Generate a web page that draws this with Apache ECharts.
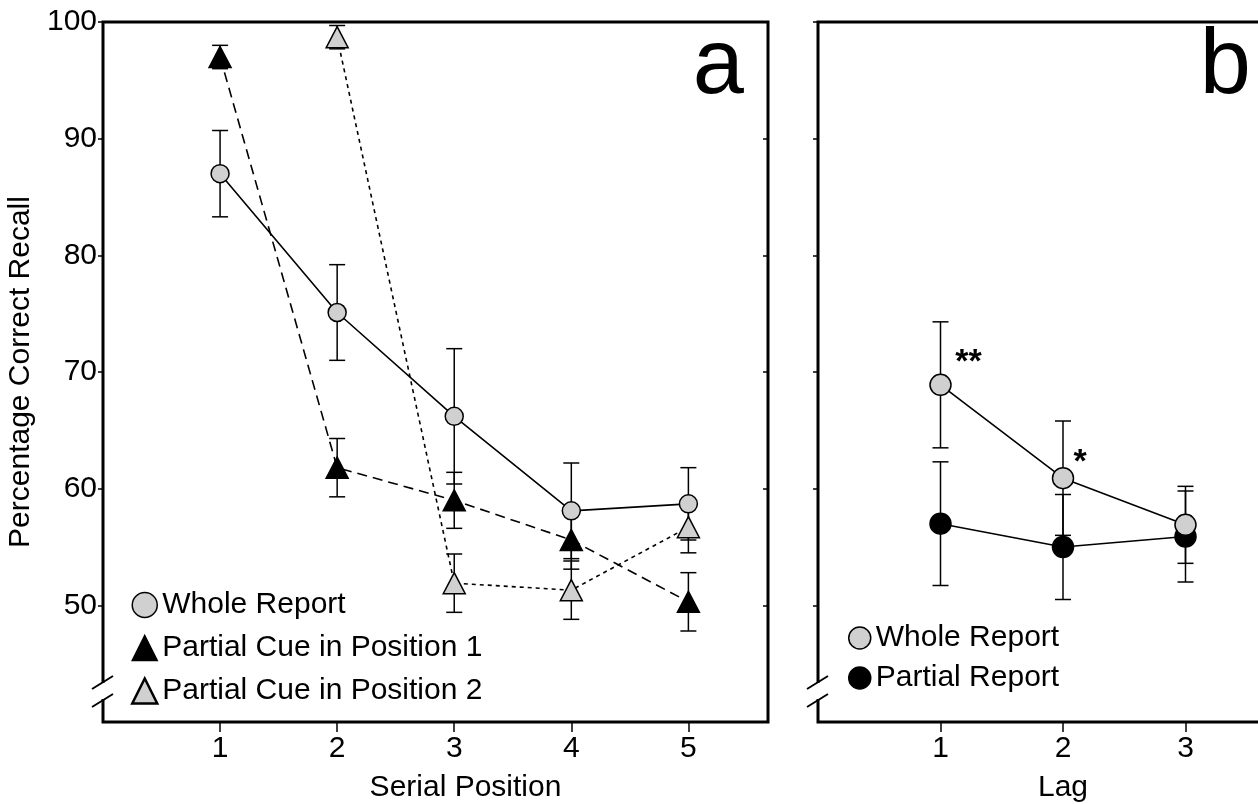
<!DOCTYPE html>
<html>
<head>
<meta charset="utf-8">
<script src="https://cdn.jsdelivr.net/npm/echarts@6/dist/echarts.min.js"></script>
<style>
  html, body { margin: 0; padding: 0; background: #fff; }
  #chart { width: 1258px; height: 804px; }
</style>
</head>
<body>
<div id="chart"></div>
<script>
// panel a: serial position
var serialPos = [1, 2, 3, 4, 5];
var wholeA = [87.0, 75.1, 66.2, 58.1, 58.7];
var wholeAErr = [3.7, 4.1, 5.8, 4.1, 3.1];
var cue1 = [97.0, 61.8, 59.0, 55.6, 50.3];
var cue1Err = [1.0, 2.5, 2.4, 2.5, 2.5];
var cue2Pos = [2, 3, 4, 5];
var cue2 = [98.7, 51.9, 51.3, 56.7];
var cue2Err = [1.0, 2.5, 2.5, 2.2];
// panel b: lag
var lags = [1, 2, 3];
var wholeB = [68.9, 60.9, 56.9];
var wholeBErr = [5.4, 4.9, 3.3];
var partialB = [57.0, 55.0, 55.9];
var partialBErr = [5.3, 4.5, 3.9];
var sigMarks = ['**', '*', ''];
var yTicks = [50, 60, 70, 80, 90, 100];

var FONT = '"Liberation Sans", Arial, Helvetica, sans-serif';
var GRAY = '#d0d0d0';

var chart = echarts.init(document.getElementById('chart'));

function pairs(xs, ys) {
  return xs.map(function (x, i) { return [x, ys[i]]; });
}

// vertical error bar with caps, drawn under the markers
function errSeries(xs, ys, es, xi, yi) {
  return {
    type: 'custom',
    xAxisIndex: xi,
    yAxisIndex: yi,
    z: 1,
    silent: true,
    encode: { x: 0, y: [1, 2] },
    data: xs.map(function (x, i) { return [x, ys[i] - es[i], ys[i] + es[i]]; }),
    renderItem: function (params, api) {
      var x = api.value(0);
      var lo = api.coord([x, api.value(1)]);
      var hi = api.coord([x, api.value(2)]);
      var w = 8;
      var st = { stroke: '#000', lineWidth: 1.5 };
      return {
        type: 'group',
        children: [
          { type: 'line', shape: { x1: hi[0], y1: hi[1], x2: lo[0], y2: lo[1] }, style: st },
          { type: 'line', shape: { x1: hi[0] - w, y1: hi[1], x2: hi[0] + w, y2: hi[1] }, style: st },
          { type: 'line', shape: { x1: lo[0] - w, y1: lo[1], x2: lo[0] + w, y2: lo[1] }, style: st }
        ]
      };
    }
  };
}

function xAxisCfg(grid, max, ticks, name, pad) {
  return {
    type: 'value', gridIndex: grid, min: 0, max: max,
    axisLine: { show: false, onZero: false },
    axisTick: { customValues: ticks, length: 10, lineStyle: { color: '#000', width: 1.5 } },
    axisLabel: { customValues: ticks, fontSize: 30, color: '#000', fontFamily: FONT, margin: 12 },
    splitLine: { show: false },
    name: name, nameLocation: 'middle', nameGap: 51,
    nameTextStyle: { fontSize: 30, color: '#000', fontFamily: FONT, padding: pad }
  };
}

function yAxisCfg(grid, inside, labels, name) {
  return {
    type: 'value', gridIndex: grid, min: 40, max: 100,
    axisLine: { show: false, onZero: false },
    axisTick: { customValues: yTicks, inside: inside, length: 5, lineStyle: { color: '#000', width: 1.5 } },
    axisLabel: { show: labels, customValues: yTicks, fontSize: 30, color: '#000', fontFamily: FONT, margin: 6 },
    splitLine: { show: false },
    name: name, nameLocation: 'middle', nameGap: 59,
    nameTextStyle: { fontSize: 30, color: '#000', fontFamily: FONT }
  };
}

function lineSeries(name, xs, ys, xi, yi, symbol, size, fill, dash) {
  return {
    name: name, type: 'line', xAxisIndex: xi, yAxisIndex: yi, z: 3,
    data: pairs(xs, ys),
    symbol: symbol, symbolSize: size, showSymbol: true,
    itemStyle: { color: fill, borderColor: '#000', borderWidth: 1.5, opacity: 1 },
    lineStyle: { color: '#000', width: 1.6, type: dash },
    emphasis: { disabled: true },
    animation: false
  };
}

// axis break marks on the y axis
function breakMark(x0) {
  return [
    { type: 'rect', z: 100, shape: { x: x0 - 4, y: 683, width: 8, height: 16 }, style: { fill: '#fff' } },
    { type: 'line', z: 101, shape: { x1: x0 - 11, y1: 689, x2: x0 + 10, y2: 676 }, style: { stroke: '#000', lineWidth: 2 } },
    { type: 'line', z: 101, shape: { x1: x0 - 11, y1: 707, x2: x0 + 10, y2: 694 }, style: { stroke: '#000', lineWidth: 2 } }
  ];
}

var legendText = { fontSize: 30, color: '#000', fontFamily: FONT };
var itemBorder = { borderColor: '#000', borderWidth: 1.5 };

var option = {
  backgroundColor: '#fff',
  animation: false,
  textStyle: { fontFamily: FONT },
  grid: [
    { left: 103, top: 22, width: 665, height: 700, show: true, borderColor: '#000', borderWidth: 3, backgroundColor: 'transparent', outerBoundsMode: 'none' },
    { left: 818, top: 22, width: 490, height: 700, show: true, borderColor: '#000', borderWidth: 3, backgroundColor: 'transparent', outerBoundsMode: 'none' }
  ],
  xAxis: [
    xAxisCfg(0, 5.68, serialPos, 'Serial Position', [0, 0, 0, 60]),
    xAxisCfg(1, 4, lags, 'Lag', [0, 0, 0, 0])
  ],
  yAxis: [
    yAxisCfg(0, false, true, 'Percentage Correct Recall'),
    yAxisCfg(0, true, false, ''),
    yAxisCfg(1, false, false, ''),
    yAxisCfg(1, true, false, '')
  ],
  legend: [
    {
      left: 131, top: 590, orient: 'vertical', padding: 0,
      itemWidth: 25, itemHeight: 25, itemGap: 13, itemTextGap: 12,
      selectedMode: false, textStyle: legendText,
      data: [
        { name: 'Whole Report', icon: 'circle', itemStyle: Object.assign({ color: GRAY }, itemBorder) },
        { name: 'Partial Cue in Position 1', icon: 'triangle', itemStyle: Object.assign({ color: '#000' }, itemBorder) },
        { name: 'Partial Cue in Position 2', icon: 'triangle', itemStyle: { color: GRAY, borderWidth: 2.5, borderColor: '#000' } }
      ]
    },
    {
      left: 848, top: 623, orient: 'vertical', padding: 0,
      itemWidth: 22, itemHeight: 22, itemGap: 10, itemTextGap: 13,
      selectedMode: false, textStyle: legendText,
      data: [
        { name: 'Whole Report', icon: 'circle', itemStyle: Object.assign({ color: GRAY }, itemBorder) },
        { name: 'Partial Report', icon: 'circle', itemStyle: Object.assign({ color: '#000' }, itemBorder) }
      ]
    }
  ],
  graphic: [
    { type: 'text', z: 100, style: { text: 'a', x: 744, y: 68, align: 'right', verticalAlign: 'middle', font: '92px ' + FONT, fill: '#000' } },
    { type: 'text', z: 100, style: { text: 'b', x: 1251, y: 68, align: 'right', verticalAlign: 'middle', font: '92px ' + FONT, fill: '#000' } }
  ].concat(breakMark(103), breakMark(818)),
  series: [
    errSeries(serialPos, wholeA, wholeAErr, 0, 0),
    errSeries(serialPos, cue1, cue1Err, 0, 0),
    errSeries(cue2Pos, cue2, cue2Err, 0, 0),
    errSeries(lags, wholeB, wholeBErr, 1, 2),
    errSeries(lags, partialB, partialBErr, 1, 2),
    lineSeries('Partial Cue in Position 2', cue2Pos, cue2, 0, 0, 'triangle', [22, 21], GRAY, [4, 4]),
    lineSeries('Partial Cue in Position 1', serialPos, cue1, 0, 0, 'triangle', [22, 21], '#000', [10, 6]),
    lineSeries('Whole Report', serialPos, wholeA, 0, 0, 'circle', 18, GRAY, 'solid'),
    lineSeries('Partial Report', lags, partialB, 1, 2, 'circle', 21, '#000', 'solid'),
    lineSeries('Whole Report', lags, wholeB, 1, 2, 'circle', 21, GRAY, 'solid'),
    {
      type: 'scatter', xAxisIndex: 1, yAxisIndex: 2, z: 5, silent: true,
      symbolSize: 1, itemStyle: { color: 'rgba(0,0,0,0)' },
      data: [
        { value: [lags[0], wholeB[0]], label: { offset: [28, -22] } },
        { value: [lags[1], wholeB[1]], label: { offset: [17, -16] } }
      ],
      label: {
        show: true, position: 'inside', color: '#000', textBorderWidth: 0, opacity: 1,
        fontSize: 34, fontWeight: 'bold', fontFamily: FONT,
        formatter: function (p) { return sigMarks[p.dataIndex]; }
      }
    }
  ]
};

chart.setOption(option);
</script>
</body>
</html>
